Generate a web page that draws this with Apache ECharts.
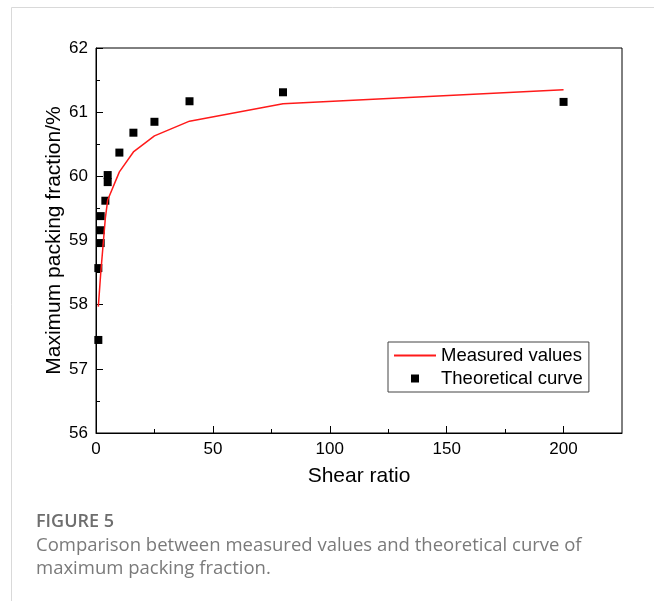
<!DOCTYPE html>
<html>
<head>
<meta charset="utf-8">
<script src="https://cdn.jsdelivr.net/npm/echarts@6.0.0/dist/echarts.min.js"></script>
<style>
  html, body { margin: 0; padding: 0; background: #fff; }
  #chart { width: 654px; height: 601px; }
</style>
</head>
<body>
<div id="chart"></div>
<script>
// shear ratio / packing fraction
var measuredX = [1, 2, 4, 5, 10, 16, 25, 40, 80, 200];
var measuredY = [57.97, 58.48, 59.35, 59.63, 60.07, 60.38, 60.63, 60.86, 61.13, 61.35];

var theoryX = [1, 1, 2, 2, 2, 4, 5, 5, 10, 16, 25, 40, 80, 200];
var theoryY = [57.45, 58.57, 58.96, 59.16, 59.38, 59.62, 59.91, 60.02, 60.37, 60.68, 60.85, 61.17, 61.31, 61.16];

var xMajorTicks = [0, 50, 100, 150, 200];
var xMinorTicks = [25, 75, 125, 175];

var seriesNames = ['Measured values', 'Theoretical curve'];
var captionTitle = 'FIGURE 5';
var captionText = 'Comparison between measured values and theoretical curve of\nmaximum packing fraction.';

var font = '"Liberation Sans", Arial, sans-serif';

function zip(xs, ys) {
  var out = [];
  for (var i = 0; i < xs.length; i++) out.push([xs[i], ys[i]]);
  return out;
}

var myChart = echarts.init(document.getElementById('chart'), null, { renderer: 'canvas' });

var option = {
  animation: false,
  backgroundColor: '#fff',
  title: {
    text: captionTitle,
    subtext: captionText,
    left: 31,
    top: 508,
    itemGap: 3,
    textStyle: {
      fontFamily: '"Open Sans", sans-serif',
      fontSize: 18,
      fontWeight: 600,
      color: '#6e6e6e'
    },
    subtextStyle: {
      fontFamily: '"Open Sans", sans-serif',
      fontSize: 18.5,
      lineHeight: 23,
      color: '#7a7a7a'
    }
  },
  graphic: [{
    type: 'polyline',
    silent: true,
    shape: { points: [[11.5, 601], [11.5, 7.5], [654, 7.5]] },
    style: { stroke: '#d9d9d9', lineWidth: 1, fill: null }
  }],
  grid: {
    left: 96,
    right: 32,
    top: 48,
    bottom: 168,
    show: true,
    borderColor: '#000',
    borderWidth: 1
  },
  legend: {
    orient: 'vertical',
    left: 388,
    top: 342,
    itemWidth: 42,
    itemHeight: 8,
    itemGap: 4,
    padding: [4, 6, 4, 5],
    borderColor: '#444',
    borderWidth: 1,
    borderRadius: 0,
    textStyle: { fontFamily: font, fontSize: 18.5, color: '#000' },
    data: [
      { name: seriesNames[0], itemStyle: { opacity: 0 } },
      { name: seriesNames[1], icon: 'path://M0,0h10v10h-10z' }
    ]
  },
  xAxis: [{
    type: 'value',
    min: 0,
    max: 225,
    interval: 50,
    name: 'Shear ratio',
    nameLocation: 'middle',
    nameGap: 33,
    nameMoveOverlap: false,
    nameTextStyle: { fontFamily: font, fontSize: 21, color: '#000' },
    axisLine: { show: true, lineStyle: { color: '#000', width: 1 } },
    axisTick: { show: true, inside: true, length: 7, customValues: xMajorTicks, lineStyle: { color: '#000' } },
    axisLabel: { customValues: xMajorTicks, margin: 8, fontFamily: font, fontSize: 17, color: '#000' },
    splitLine: { show: false }
  }, {
    type: 'value',
    min: 0,
    max: 225,
    position: 'bottom',
    axisLine: { show: false },
    axisTick: { show: true, inside: true, length: 4, customValues: xMinorTicks, lineStyle: { color: '#000' } },
    axisLabel: { show: false },
    splitLine: { show: false }
  }],
  yAxis: {
    type: 'value',
    min: 56,
    max: 62,
    interval: 1,
    name: 'Maximum packing fraction/%',
    nameLocation: 'middle',
    nameGap: 31,
    nameMoveOverlap: false,
    nameTextStyle: { fontFamily: font, fontSize: 21, color: '#000' },
    axisLine: { show: true, lineStyle: { color: '#000', width: 1 } },
    axisTick: { show: true, inside: true, length: 7, lineStyle: { color: '#000' } },
    minorTick: { show: true, splitNumber: 2, length: 4, lineStyle: { color: '#000' } },
    axisLabel: { margin: 8, fontFamily: font, fontSize: 17, color: '#000' },
    splitLine: { show: false },
    minorSplitLine: { show: false }
  },
  series: [{
    name: seriesNames[0],
    type: 'line',
    xAxisIndex: 0,
    data: zip(measuredX, measuredY),
    symbol: 'none',
    lineStyle: { color: '#ff1a1a', width: 1.5 },
    itemStyle: { color: '#ff1a1a' },
    z: 3
  }, {
    name: seriesNames[1],
    type: 'scatter',
    xAxisIndex: 0,
    data: zip(theoryX, theoryY),
    symbol: 'rect',
    symbolSize: 8,
    itemStyle: { color: '#000', opacity: 1 },
    z: 2
  }]
};

myChart.setOption(option);
</script>
</body>
</html>
